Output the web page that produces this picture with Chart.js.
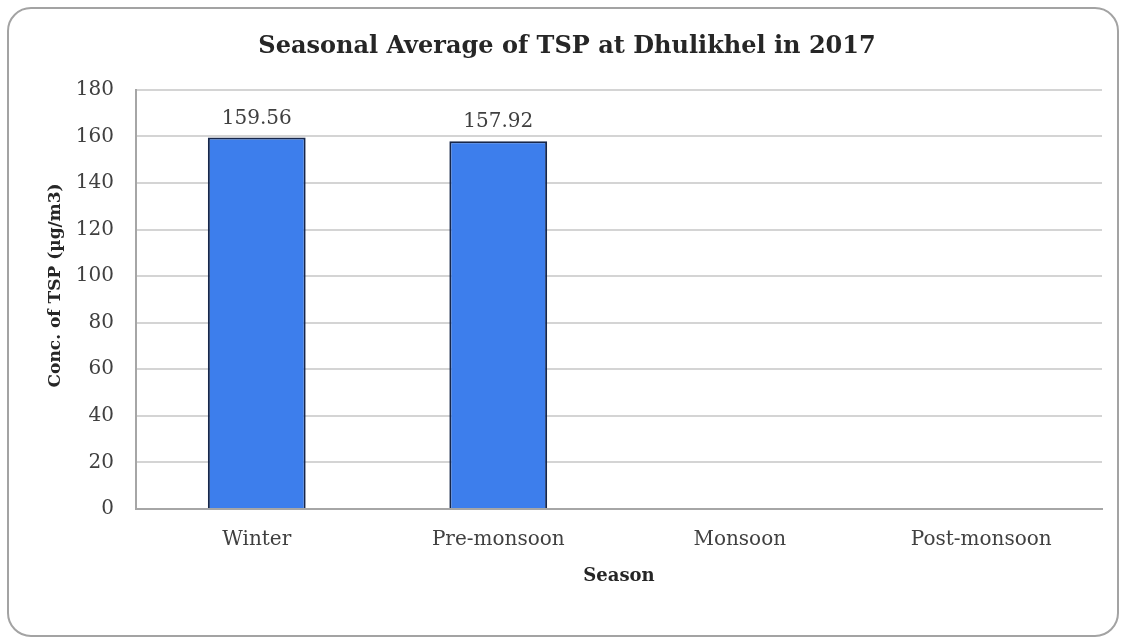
<!DOCTYPE html>
<html>
<head>
<meta charset="utf-8">
<title>Seasonal Average of TSP at Dhulikhel in 2017</title>
<script src="https://cdn.jsdelivr.net/npm/chart.js@4"></script>
<style>
  html, body { margin: 0; padding: 0; background: #fff; }
  #frame {
    position: absolute; left: 7px; top: 7px;
    width: 1112px; height: 630px;
    box-sizing: border-box;
    border: 2px solid #a3a3a3; border-radius: 24px;
    overflow: hidden; background: #fff;
  }
  #tspChart { display: block; }
</style>
</head>
<body>
<div id="frame"><canvas id="tspChart" width="1108" height="626"></canvas></div>
<script>
const seasons = ['Winter', 'Pre-monsoon', 'Monsoon', 'Post-monsoon'];
const tspAverage = [159.56, 157.92, null, null];
const yMin = 0, yMax = 180, yStep = 20;
const yTitle = 'Conc. of TSP (µg/m3)';

const serif = "'DejaVu Serif', 'Liberation Serif', serif";

// value labels above each bar
const barLabels = {
  id: 'barLabels',
  afterDatasetsDraw(chart) {
    const ctx = chart.ctx;
    const meta = chart.getDatasetMeta(0);
    ctx.save();
    ctx.font = '20px ' + serif;
    ctx.fillStyle = '#404040';
    ctx.textAlign = 'center';
    ctx.textBaseline = 'middle';
    meta.data.forEach((bar, i) => {
      const v = tspAverage[i];
      if (v == null) return;
      ctx.fillText(v.toFixed(2), bar.x, bar.y - 19);
    });
    ctx.restore();
  }
};

// y axis title, sitting a little above the middle of the axis
const yAxisTitle = {
  id: 'yAxisTitle',
  afterDraw(chart) {
    const ctx = chart.ctx;
    const area = chart.chartArea;
    ctx.save();
    ctx.translate(47, (area.top + area.bottom) / 2 - 14);
    ctx.rotate(-Math.PI / 2);
    ctx.font = 'bold 17px ' + serif;
    ctx.fillStyle = '#262626';
    ctx.textAlign = 'center';
    ctx.textBaseline = 'middle';
    ctx.fillText(yTitle, 0, 0);
    ctx.restore();
  }
};

new Chart(document.getElementById('tspChart'), {
  type: 'bar',
  data: {
    labels: seasons,
    datasets: [{
      label: 'TSP',
      data: tspAverage,
      backgroundColor: '#3d7eec',
      borderColor: '#16264a',
      borderWidth: 2,
      barPercentage: 0.405,
      categoryPercentage: 1
    }]
  },
  options: {
    responsive: false,
    animation: false,
    layout: { padding: { left: 23, right: 15, top: 0, bottom: 0 } },
    plugins: {
      legend: { display: false },
      tooltip: { enabled: false },
      title: {
        display: true,
        text: 'Seasonal Average of TSP at Dhulikhel in 2017',
        color: '#262626',
        font: { family: serif, size: 24, weight: 'bold', lineHeight: 1.2 },
        padding: { top: 23, bottom: 29 }
      }
    },
    scales: {
      x: {
        grid: { display: false, drawTicks: false },
        border: { display: true, color: '#a6a6a6', width: 2 },
        ticks: { color: '#404040', padding: 19, font: { family: serif, size: 20 } },
        title: {
          display: true,
          text: 'Season',
          color: '#262626',
          font: { family: serif, size: 18, weight: 'bold', lineHeight: 1.2 },
          padding: { top: 0, bottom: 48 }
        },
        afterFit(scale) { scale.height = 126; }
      },
      y: {
        min: yMin,
        max: yMax,
        grid: { color: '#d4d4d4', lineWidth: 2, drawTicks: false },
        border: { display: true, color: '#a6a6a6', width: 2 },
        ticks: { stepSize: yStep, color: '#404040', padding: 22, font: { family: serif, size: 20 } },
        afterFit(scale) { scale.width = 104; }
      }
    }
  },
  plugins: [barLabels, yAxisTitle]
});
</script>
</body>
</html>
